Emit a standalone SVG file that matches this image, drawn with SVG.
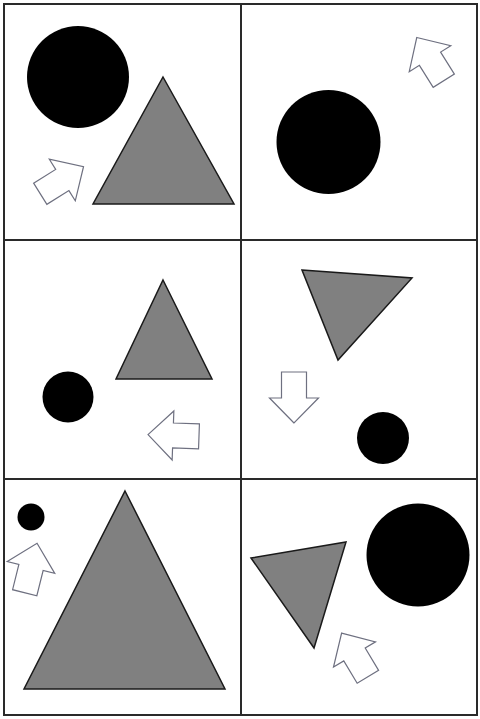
<svg xmlns="http://www.w3.org/2000/svg" xmlns:xlink="http://www.w3.org/1999/xlink" width="480" height="719" viewBox="0 0 480 719">
<style>
.grid{fill:none;stroke:#2a2a2a;stroke-width:2}
.circ{fill:#000}
.tri{fill:#808080;stroke:#1a1a1a;stroke-width:1.5;stroke-linejoin:miter}
.arr{fill:#fff;stroke:#6e7080;stroke-width:1.2;stroke-linejoin:miter}
</style>
<defs>
<polygon id="arrow" class="arr" points="0,-25 24.5,0 12.5,0 12.5,26 -12.5,26 -12.5,0 -24.5,0"/>
</defs>
<rect width="480" height="719" fill="#fff"/>
<g id="frame">
<rect class="grid" x="4" y="4" width="473" height="711"/>
<line class="grid" x1="241" y1="4" x2="241" y2="715"/>
<line class="grid" x1="4" y1="240" x2="477" y2="240"/>
<line class="grid" x1="4" y1="479" x2="477" y2="479"/>
</g>
<g id="panel1">
<circle class="circ" cx="78" cy="77" r="51"/>
<polygon class="tri" points="163,77 234,204 93,204"/>
<use xlink:href="#arrow" href="#arrow" transform="translate(62.3,180) rotate(58)"/>
</g>
<g id="panel2">
<circle class="circ" cx="328.5" cy="142" r="52"/>
<use xlink:href="#arrow" href="#arrow" transform="translate(430,58.7) rotate(-32)"/>
</g>
<g id="panel3">
<circle class="circ" cx="68" cy="397" r="25.5"/>
<polygon class="tri" points="163,280 212,379 116,379"/>
<use xlink:href="#arrow" href="#arrow" transform="translate(173,435.5) rotate(-88)"/>
</g>
<g id="panel4">
<polygon class="tri" points="302,270 412,278 338,360"/>
<use xlink:href="#arrow" href="#arrow" transform="translate(294,398) rotate(180)"/>
<circle class="circ" cx="383" cy="438" r="26"/>
</g>
<g id="panel5">
<circle class="circ" cx="31" cy="517" r="13.5"/>
<polygon class="tri" points="125,491 225,689 24,689"/>
<use xlink:href="#arrow" href="#arrow" transform="translate(31,567.5) rotate(14)"/>
</g>
<g id="panel6">
<polygon class="tri" points="251,558 346,542 314,648"/>
<circle class="circ" cx="418" cy="555" r="51.5"/>
<use xlink:href="#arrow" href="#arrow" transform="translate(354.5,654.5) rotate(-31)"/>
</g>
</svg>
